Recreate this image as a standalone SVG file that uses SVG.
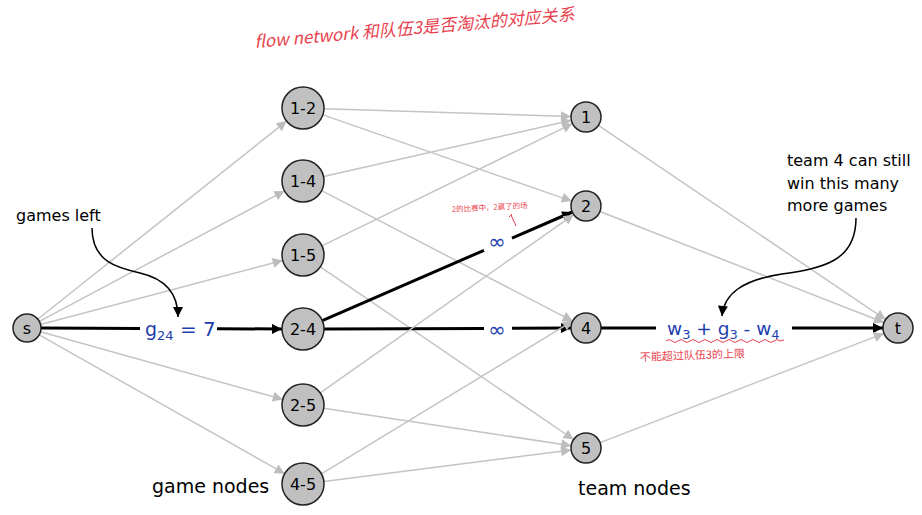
<svg xmlns="http://www.w3.org/2000/svg" width="922" height="515" viewBox="0 0 922 515">
<defs>
<marker id="ag" viewBox="0 0 10 10" refX="10" refY="5" markerWidth="11" markerHeight="10" markerUnits="userSpaceOnUse" orient="auto"><path d="M0,0 L10,5 L0,10 Z" fill="#bdbdbd"/></marker>
<marker id="ab" viewBox="0 0 10 10" refX="10" refY="5" markerWidth="12" markerHeight="10" markerUnits="userSpaceOnUse" orient="auto"><path d="M0,0 L10,5 L0,10 Z" fill="#000"/></marker>
<style>
.e{stroke:#c4c4c4;stroke-width:1.5;fill:none;marker-end:url(#ag)}
.b{stroke:#000;stroke-width:3;fill:none}
.ba{marker-end:url(#ab)}
.n{fill:#c0c0c0;stroke:#222;stroke-width:1.5}
.nl{font-family:"DejaVu Sans",sans-serif;font-size:16px;fill:#000;text-anchor:middle;dominant-baseline:central}
.lbl{font-family:"DejaVu Sans",sans-serif;font-size:16px;fill:#000}
.big{font-family:"DejaVu Sans",sans-serif;font-size:19px;fill:#000}
.blue{font-family:"DejaVu Sans",sans-serif;fill:#1e3fae}
.red{font-family:"Noto Sans CJK SC","Noto Sans",sans-serif;fill:#e8424e}
.cur{stroke:#000;stroke-width:1.5;fill:none;marker-end:url(#ab)}
</style>
</defs>
<rect width="922" height="515" fill="#fff"/>
<g id="connectors">
<line class="e" x1="38" y1="319" x2="286.6" y2="121.1"/>
<line class="e" x1="39.4" y1="321.4" x2="284.5" y2="190.9"/>
<line class="e" x1="40.5" y1="324.4" x2="282.7" y2="260.4"/>
<line class="e" x1="40.5" y1="331.8" x2="282.8" y2="399.4"/>
<line class="e" x1="39.2" y1="334.9" x2="284.7" y2="473.7"/>
<line class="b" x1="41" y1="328" x2="140" y2="328.4"/>
<line class="b ba" x1="217" y1="328.7" x2="282" y2="329"/>
<line class="e" x1="324" y1="108.7" x2="571" y2="116.5"/>
<line class="e" x1="322.8" y1="114.9" x2="571.8" y2="201.1"/>
<line class="e" x1="323.5" y1="176.4" x2="571.4" y2="120.3"/>
<line class="e" x1="321.6" y1="190.7" x2="572.7" y2="321.1"/>
<line class="e" x1="321.9" y1="245.8" x2="572.5" y2="123.6"/>
<line class="e" x1="320.3" y1="266.8" x2="573.6" y2="439.5"/>
<line class="b" x1="322.3" y1="320.6" x2="484" y2="250.3"/>
<line class="b ba" x1="512" y1="238.1" x2="572.2" y2="212"/>
<line class="b" x1="324" y1="329" x2="484" y2="328.4"/>
<line class="b ba" x1="512" y1="328.3" x2="571" y2="328"/>
<line class="e" x1="320.2" y1="392.9" x2="573.7" y2="214.6"/>
<line class="e" x1="323.8" y1="408.2" x2="571.2" y2="445.7"/>
<line class="e" x1="321.4" y1="473.9" x2="572.9" y2="320.8"/>
<line class="e" x1="323.8" y1="481.4" x2="571.1" y2="449.9"/>
<line class="e" x1="598.4" y1="125.4" x2="885.6" y2="319.6"/>
<line class="e" x1="600" y1="211.5" x2="884" y2="322.5"/>
<line class="b" x1="601" y1="328" x2="656" y2="328"/>
<line class="b ba" x1="792" y1="328" x2="883" y2="328"/>
<line class="e" x1="600" y1="442.6" x2="884" y2="333.4"/>
<path class="cur" d="M92,228 C92,262 118,268 140,273 C166,279 178,294 178,317"/>
<path class="cur" d="M856,218 C856,262 822,268 782,274 C742,280 724,294 722,316"/>
</g>
<g id="labels">
<text class="blue" x="145" y="336" font-size="19">g<tspan font-size="13" dy="4">24</tspan><tspan dy="-4" font-size="20"> = 7</tspan></text>
<text class="blue" x="497" y="249" font-size="21" text-anchor="middle">∞</text>
<text class="blue" x="497" y="337" font-size="21" text-anchor="middle">∞</text>
<text class="blue" x="667" y="335" font-size="18.5">w<tspan font-size="13" dy="4">3</tspan><tspan dy="-4"> + g</tspan><tspan font-size="13" dy="4">3</tspan><tspan dy="-4">  - w</tspan><tspan font-size="13" dy="4">4</tspan></text>
<text class="lbl" x="16" y="221">games left</text>
<text class="lbl" x="787" y="166">team 4 can still</text>
<text class="lbl" x="787" y="189">win this many</text>
<text class="lbl" x="787" y="211">more games</text>
<text class="big" x="152" y="493">game nodes</text>
<text class="big" x="578" y="495">team nodes</text>
</g>
<g id="notes">
<text class="red" x="255" y="48" font-size="17" font-style="italic" transform="rotate(-5 255 48)">flow network 和队伍3是否淘汰的对应关系</text>
<text class="red" x="452" y="212" font-size="7.5" transform="rotate(-3 452 212)">2的比赛中，2赢了的场</text>
<path d="M509,217 L512,214 M511,215 L516,226" stroke="#e8424e" stroke-width="1" fill="none"/>
<path d="M666,341 q3,-3 6,0 t6,0 t6,0 t6,0 t6,0 t6,0 t6,0 t6,0 t6,0 t6,0 t6,0 t6,0 t6,0 t6,0 t6,0 t6,0 t6,0 t6,0 t6,0 l4,-1" stroke="#e8424e" stroke-width="1" fill="none"/>
<text class="red" x="640" y="361" font-size="11" transform="rotate(-2 640 361)">不能超过队伍3的上限</text>
</g>
<g id="node-s"><circle class="n" cx="27" cy="328" r="14"/><text class="nl" x="27" y="328">s</text></g>
<g id="node-1-2"><circle class="n" cx="303" cy="108" r="21"/><text class="nl" x="303" y="108">1-2</text></g>
<g id="node-1-4"><circle class="n" cx="303" cy="181" r="21"/><text class="nl" x="303" y="181">1-4</text></g>
<g id="node-1-5"><circle class="n" cx="303" cy="255" r="21"/><text class="nl" x="303" y="255">1-5</text></g>
<g id="node-2-4"><circle class="n" cx="303" cy="329" r="21"/><text class="nl" x="303" y="329">2-4</text></g>
<g id="node-2-5"><circle class="n" cx="303" cy="405" r="21"/><text class="nl" x="303" y="405">2-5</text></g>
<g id="node-4-5"><circle class="n" cx="303" cy="484" r="21"/><text class="nl" x="303" y="484">4-5</text></g>
<g id="node-1"><circle class="n" cx="586" cy="117" r="15"/><text class="nl" x="586" y="117">1</text></g>
<g id="node-2"><circle class="n" cx="586" cy="206" r="15"/><text class="nl" x="586" y="206">2</text></g>
<g id="node-4"><circle class="n" cx="586" cy="328" r="15"/><text class="nl" x="586" y="328">4</text></g>
<g id="node-5"><circle class="n" cx="586" cy="448" r="15"/><text class="nl" x="586" y="448">5</text></g>
<g id="node-t"><circle class="n" cx="898" cy="328" r="15"/><text class="nl" x="898" y="328">t</text></g>
</svg>
